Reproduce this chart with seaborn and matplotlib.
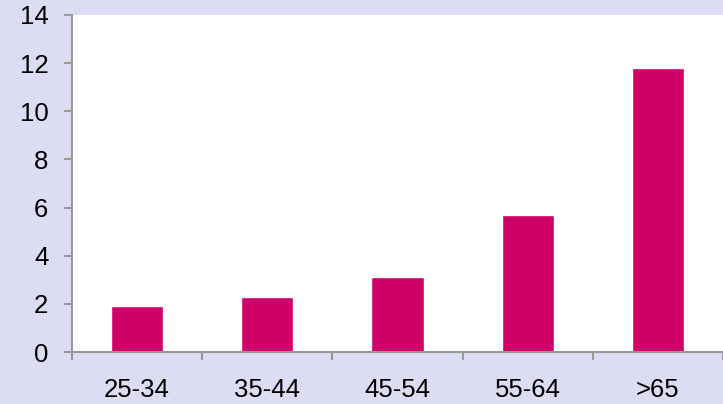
import matplotlib
matplotlib.use("Agg")
import matplotlib.pyplot as plt
import seaborn as sns
import pandas as pd
from matplotlib.ticker import FixedLocator

categories = ["25-34", "35-44", "45-54", "55-64", ">65"]
values = [1.9, 2.3, 3.1, 5.7, 11.8]
yticks = [0, 2, 4, 6, 8, 10, 12, 14]

sns.set_style("white")
plt.rcParams['font.family'] = ['Liberation Sans', 'DejaVu Sans']

bg = "#DCDCF2"
bar_color = "#CF0068"
spine_color = "#999999"

df = pd.DataFrame({"cat": categories, "val": values})

fig = plt.figure(figsize=(7.23, 4.04), dpi=100)
fig.patch.set_facecolor(bg)
ax = fig.add_axes([72/723, 52/404, 651/723, 337/404])
ax.set_facecolor("white")

sns.barplot(data=df, x="cat", y="val", color=bar_color, width=0.4,
            saturation=1, ax=ax)

ax.set_ylim(0, 14)
ax.set_xlim(-0.5, 4.5)
ax.set_yticks(yticks)
ax.set_xlabel("")
ax.set_ylabel("")

for s in ["top", "right"]:
    ax.spines[s].set_visible(False)
for s in ["left", "bottom"]:
    ax.spines[s].set_color(spine_color)
    ax.spines[s].set_linewidth(1.5)

ax.xaxis.set_minor_locator(FixedLocator([-0.5, 0.5, 1.5, 2.5, 3.5, 4.5]))
ax.tick_params(axis="x", which="major", length=0, pad=19, labelsize=18.5, colors="black")
ax.tick_params(axis="x", which="minor", length=6, width=1.5, color=spine_color, direction="out", bottom=True)
ax.tick_params(axis="y", which="major", length=6, width=1.5, color=spine_color, direction="out",
               left=True, pad=11, labelsize=18.5, labelcolor="black")

fig.savefig("out.png", dpi=100, facecolor=bg)
